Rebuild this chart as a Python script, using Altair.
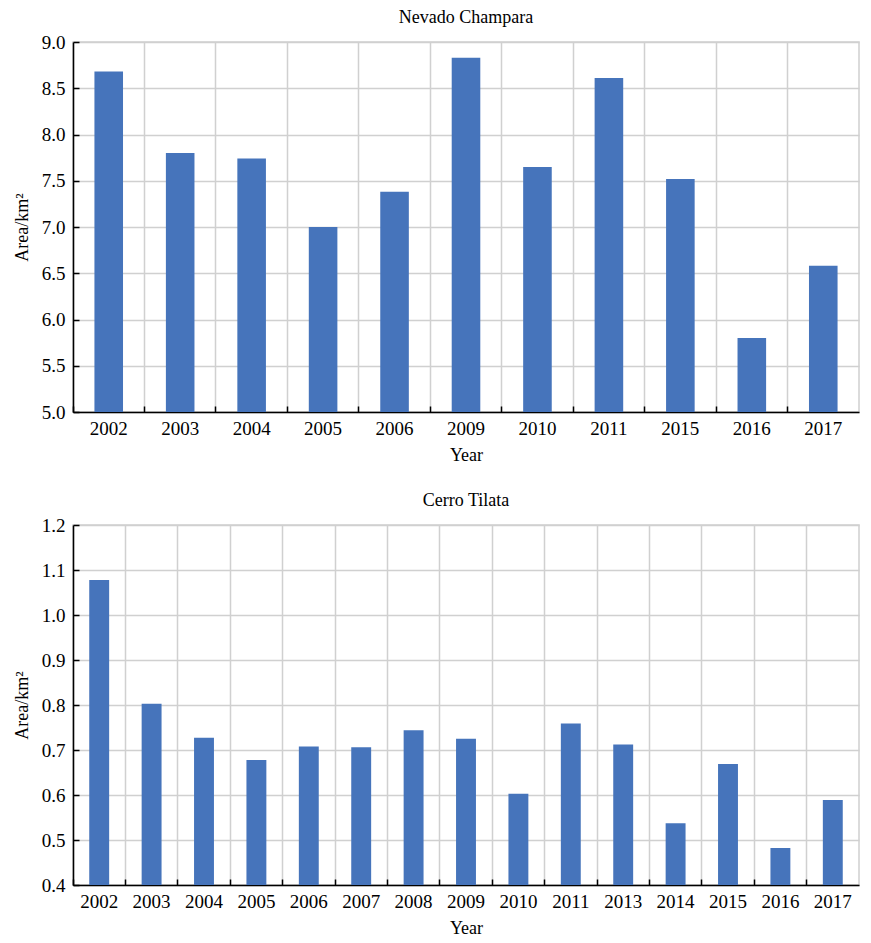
import altair as alt
import pandas as pd

years_a = ["2002", "2003", "2004", "2005", "2006", "2009", "2010", "2011", "2015", "2016", "2017"]
area_a = [8.68, 7.80, 7.74, 7.00, 7.38, 8.83, 7.65, 8.61, 7.52, 5.80, 6.58]

years_b = ["2002", "2003", "2004", "2005", "2006", "2007", "2008", "2009", "2010",
           "2011", "2013", "2014", "2015", "2016", "2017"]
area_b = [1.078, 0.803, 0.727, 0.678, 0.708, 0.706, 0.744, 0.725, 0.603,
          0.759, 0.712, 0.537, 0.669, 0.482, 0.589]

FONT = "Liberation Serif"
BLUE = "#4674BB"
GRID = "#D0D0D0"


def panel(years, area, title, ymin, ymax, step, bandfrac, h):
    df = pd.DataFrame({"Year": years, "Area": area})
    xscale = alt.Scale(domain=years, paddingInner=0, paddingOuter=0)
    yscale = alt.Scale(domain=[ymin, ymax], nice=False, zero=False)
    nt = int(round((ymax - ymin) / step))
    yvals = [round(ymin + i * step, 2) for i in range(nt + 1)]
    bars = alt.Chart(df).mark_bar(color=BLUE, width=alt.RelativeBandSize(bandfrac), clip=True).encode(
        x=alt.X("Year:N", scale=xscale, sort=years,
                axis=alt.Axis(title="Year", orient="bottom", bandPosition=0, grid=True,
                              gridColor=GRID, gridWidth=1.5, ticks=False, labelAngle=0,
                              domainColor="black", domainWidth=1.5, labelPadding=7,
                              titlePadding=8,
                              labelFont=FONT, titleFont=FONT, labelFontSize=19,
                              titleFontSize=18, titleFontWeight="normal",
                              labelColor="black", titleColor="black")),
        y=alt.Y("Area:Q", scale=yscale,
                axis=alt.Axis(title="Area/km²", orient="left", format=".1f", values=yvals,
                              grid=True, gridColor=GRID, gridWidth=1.5, ticks=False,
                              domainColor="black", domainWidth=1.5, labelPadding=8,
                              titlePadding=10,
                              labelFont=FONT, titleFont=FONT, labelFontSize=19,
                              titleFontSize=18, titleFontWeight="normal",
                              labelColor="black", titleColor="black")),
    )
    ticks = alt.Chart(df).mark_point(opacity=0).encode(
        x=alt.X("Year:N", scale=xscale, sort=years,
                axis=alt.Axis(title=None, orient="bottom", bandPosition=0, grid=False,
                              labels=False, domain=False, ticks=True, tickSize=6,
                              tickColor="black", tickWidth=1.5, offset=-6)),
        y=alt.Y("Area:Q", scale=yscale,
                axis=alt.Axis(title=None, orient="left", grid=False, labels=False,
                              domain=False, ticks=True, tickSize=6, tickColor="black",
                              tickWidth=1.5, offset=-6, values=yvals)),
    )
    return alt.layer(bars, ticks).resolve_axis(x="independent", y="independent").properties(
        width=786, height=h,
        title=alt.TitleParams(title, font=FONT, fontSize=18, fontWeight="normal",
                              color="black", offset=6),
    )


top = panel(years_a, area_a, "Nevado Champara", 5.0, 9.0, 0.5, 0.4, 370)
bottom = panel(years_b, area_b, "Cerro Tilata", 0.4, 1.2, 0.1, 0.38, 360)

chart = alt.vconcat(
    top, bottom, spacing=26, background="white",
    padding={"left": 4, "top": 0, "right": 0, "bottom": 0}
).configure_view(stroke=GRID, strokeWidth=1.5)

chart.save("out.html", embed_options={"renderer": "svg", "actions": False})
